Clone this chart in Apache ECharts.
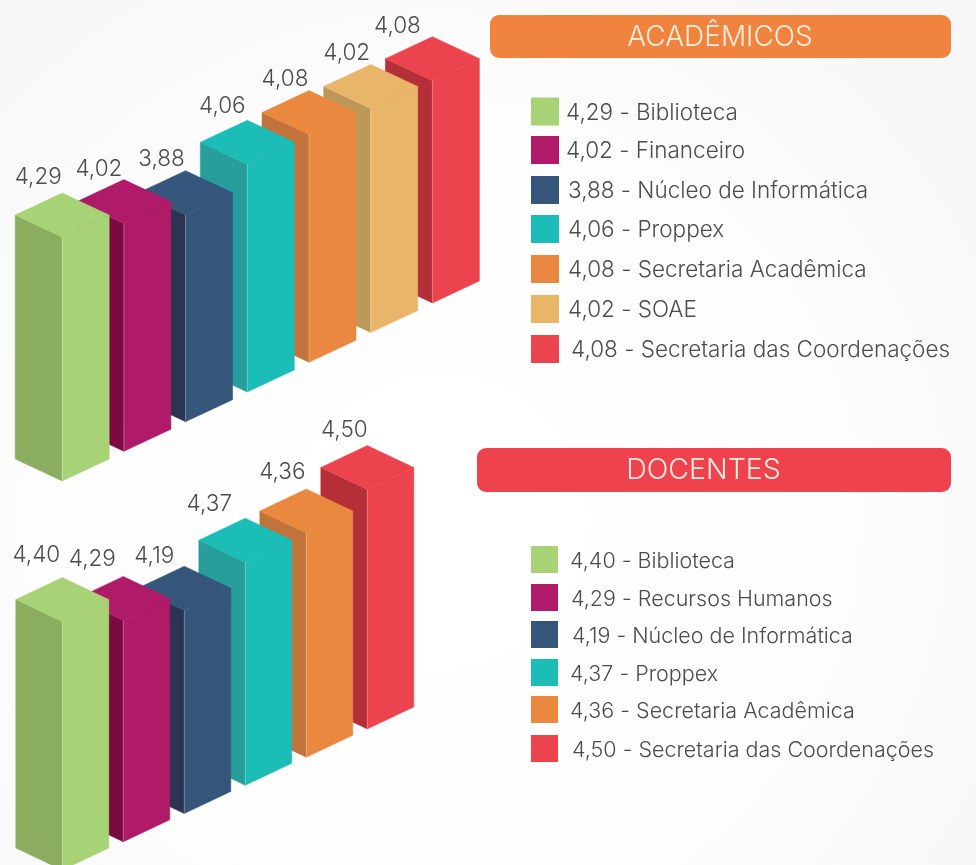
<!DOCTYPE html>
<html lang="pt">
<head>
<meta charset="utf-8">
<style>html,body{margin:0;padding:0;background:#fff}#c{width:976px;height:865px}</style>
<script src="https://cdn.jsdelivr.net/npm/echarts@6/dist/echarts.min.js"></script>
</head>
<body>
<div id="c"></div>
<script>
// ---- data ----
const academicosTitle = 'ACADÊMICOS';
const academicosNames = ['Biblioteca','Financeiro','Núcleo de Informática','Proppex','Secretaria Acadêmica','SOAE','Secretaria das Coordenações'];
const academicosValues = [4.29,4.02,3.88,4.06,4.08,4.02,4.08];
// bar lengths as drawn in the picture, in axis units (the source's bars do not follow the printed values exactly)
const academicosDrawn = [4.27,4.09,3.86,4.09,4.09,4.05,4.03];

const docentesTitle = 'DOCENTES';
const docentesNames = ['Biblioteca','Recursos Humanos','Núcleo de Informática','Proppex','Secretaria Acadêmica','Secretaria das Coordenações'];
const docentesValues = [4.40,4.29,4.19,4.37,4.36,4.50];
const docentesDrawn = [4.32,4.02,3.82,4.04,4.05,4.22];

// ---- styles and layout ----
const FACE = ['#A8D276','#AF1B68','#35567A','#1CBDB7','#EA883F','#E9B568','#EC444E'];
const SIDE = ['#8AAD5F','#7A0A40','#2B3452','#279E9C','#C2733A','#BE9858','#B52F38'];
const DOC_FACE = ['#A8D276','#AF1B68','#35567A','#1CBDB7','#EA883F','#EC444E'];
const DOC_SIDE = ['#8AAD5F','#7A0A40','#2B3452','#279E9C','#C2733A','#B52F38'];
const FONT = 'Inter, "Open Sans", sans-serif';
const TEXT = '#4c4c4c';
const GROUND = 1.56;   // axis value of the bars' foot
const AXIS_MIN = 1.7, AXIS_MAX = 5.7;
const fmt = v => v.toFixed(2).replace('.', ',');

const panels = [
  {names: academicosNames, values: academicosValues, drawn: academicosDrawn, face: FACE, side: SIDE,
   slope: 0.481, hw: 47, hh: 22,
   nudge: [[-24,-16],[-25,-10],[-24,-11],[-25,-14],[-24,-11],[-24,-11],[-35,-10]],
   grid: {left: 62.2, top: 108.4, width: 370.2, height: 360}},
  {names: docentesNames, values: docentesValues, drawn: docentesDrawn, face: DOC_FACE, side: DOC_SIDE,
   slope: 0.4625, hw: 46.5, hh: 22,
   nudge: [[-26,-22],[-31,-17],[-30,-10],[-36,-14],[-24,-17],[-23,-15]],
   grid: {left: 62.3, top: 497.4, width: 305, height: 360}}
];

function makeRender(p) {
  return function (params, api) {
    const i = api.value(0), len = api.value(1), printed = api.value(2);
    const x0 = api.coord([0, GROUND])[0];
    const top = api.coord([i, len]);
    const base = api.coord([i, GROUND]);
    const x = top[0];
    const lift = (x - x0) * p.slope;
    const yt = top[1] - lift, yb = base[1] - lift;
    const poly = (pts, fill) => ({type: 'polygon', shape: {points: pts}, style: {fill, stroke: fill, lineWidth: 0.5}});
    return {
      type: 'group',
      children: [
        poly([[x - p.hw, yt - p.hh],[x, yt],[x, yb],[x - p.hw, yb - p.hh]], p.side[i]),
        poly([[x, yt],[x + p.hw, yt - p.hh],[x + p.hw, yb - p.hh],[x, yb]], p.face[i]),
        poly([[x - p.hw, yt - p.hh],[x, yt - 2 * p.hh],[x + p.hw, yt - p.hh],[x, yt]], p.face[i]),
        {type: 'line', shape: {x1: x, y1: yt, x2: x, y2: yb}, style: {stroke: 'rgba(255,255,255,0.25)', lineWidth: 1}},
        {type: 'text', style: {
          text: fmt(printed), x: x + p.nudge[i][0], y: yt - 2 * p.hh + p.nudge[i][1],
          align: 'center', verticalAlign: 'middle', fill: TEXT,
          font: '300 22.5px ' + FONT}}
      ]
    };
  };
}

// ---- legends and title bars ----
const legendLayouts = [
  {swatchTop: [97.5,136,176,215,255,295,335], size: 28, font: 22.5, dy: 1.5, textX: [566,566,568,568,568,568,571]},
  {swatchTop: [546,584,621,659,696,735], size: 27, font: 21.5, dy: 2.5, textX: [570,571,572,570,570,572]}
];
const titleBars = [
  {text: academicosTitle, x: 490, y: 15, w: 461, h: 43, color: '#F0843F', cx: 720, cy: 38, font: 28},
  {text: docentesTitle, x: 477, y: 448, w: 474, h: 44, color: '#EE434F', cx: 703.5, cy: 470, font: 28.5}
];
const graphics = [];
titleBars.forEach(t => {
  graphics.push({type: 'rect', left: t.x, top: t.y, shape: {width: t.w, height: t.h, r: 9}, style: {fill: t.color}});
  graphics.push({type: 'text', x: t.cx, y: t.cy,
    style: {text: t.text, fill: '#FDEDE0', align: 'center', verticalAlign: 'middle', font: '300 ' + t.font + 'px ' + FONT}});
});
panels.forEach((p, k) => {
  const lay = legendLayouts[k];
  p.names.forEach((n, i) => {
    graphics.push({type: 'rect', left: 531, top: lay.swatchTop[i], shape: {width: lay.size, height: lay.size}, style: {fill: p.face[i]}});
    graphics.push({type: 'text', x: lay.textX[i], y: lay.swatchTop[i] + lay.size / 2 + lay.dy,
      style: {text: fmt(p.values[i]) + ' - ' + n, fill: TEXT, align: 'left', verticalAlign: 'middle', font: '300 ' + lay.font + 'px ' + FONT}});
  });
});

const chart = echarts.init(document.getElementById('c'), null, {renderer: 'canvas'});
chart.setOption({
  animation: false,
  backgroundColor: {type: 'radial', x: 0.45, y: 0.6, r: 0.75,
    colorStops: [{offset: 0, color: '#ffffff'},{offset: 0.6, color: '#fdfdfd'},{offset: 1, color: '#f7f7f7'}]},
  grid: panels.map(p => Object.assign({containLabel: false}, p.grid)),
  xAxis: panels.map((p, k) => ({type: 'value', gridIndex: k, min: 0, max: p.names.length - 1, show: false})),
  yAxis: panels.map((p, k) => ({type: 'value', gridIndex: k, min: AXIS_MIN, max: AXIS_MAX, show: false})),
  graphic: graphics,
  series: panels.map((p, k) => ({
    type: 'custom',
    name: k ? docentesTitle : academicosTitle,
    xAxisIndex: k, yAxisIndex: k,
    clip: false, silent: true,
    encode: {x: 0, y: 1},
    renderItem: makeRender(p),
    // painted from the back bar to the front bar
    data: p.drawn.map((d, i) => [i, d, p.values[i]]).reverse()
  }))
});
</script>
</body>
</html>
